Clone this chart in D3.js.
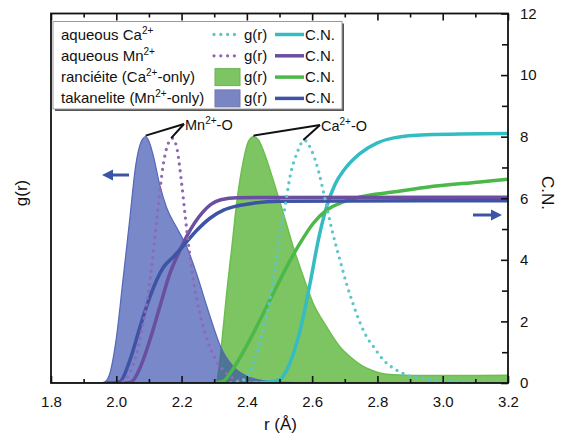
<!DOCTYPE html>
<html>
<head>
<meta charset="utf-8">
<script src="https://cdn.jsdelivr.net/npm/d3@7"></script>
<style>
    body { margin: 0; background: #fff; }
    svg text { font-family: Arial, "Liberation Sans", Helvetica, sans-serif; fill: #111; }
</style>
</head>
<body>
<svg id="chart" width="564" height="444"></svg>
<script>
// ---- data: [r (Å), value] ----
const takaneliteG = [[1.80,0],[1.95,0],[1.965,0.04],[1.98,0.3],[2.00,1.45],[2.02,3.3],[2.04,5.2],[2.06,7.1],[2.075,7.8],[2.09,8.0],[2.10,7.85],[2.113,7.4],[2.134,6.4],[2.154,5.7],[2.185,5.05],[2.216,4.42],[2.246,3.55],[2.277,2.5],[2.30,1.75],[2.318,1.22],[2.357,0.55],[2.40,0.22],[2.45,0.08],[2.52,0.02],[2.60,0],[3.20,0]];
const rancieiteG = [[1.80,0],[2.305,0],[2.315,0.5],[2.325,1.5],[2.338,2.9],[2.354,4.4],[2.369,5.85],[2.389,7.2],[2.405,7.85],[2.42,8.0],[2.435,7.9],[2.45,7.56],[2.481,6.58],[2.512,5.5],[2.542,4.42],[2.573,3.45],[2.603,2.59],[2.644,1.83],[2.685,1.18],[2.72,0.82],[2.75,0.58],[2.78,0.42],[2.81,0.32],[2.85,0.27],[2.95,0.24],[3.20,0.25]];
const aqMnG = [[2.00,0],[2.021,0.05],[2.04,0.3],[2.062,0.96],[2.08,1.8],[2.095,2.7],[2.113,4.2],[2.129,5.8],[2.144,7.1],[2.158,7.75],[2.172,7.95],[2.187,7.55],[2.20,6.5],[2.216,4.96],[2.236,3.34],[2.256,2.26],[2.28,1.35],[2.30,0.85],[2.338,0.31],[2.389,0.05],[2.45,0]];
const aqCaG = [[2.35,0],[2.399,0.15],[2.42,0.64],[2.445,1.5],[2.466,2.47],[2.486,3.67],[2.501,4.75],[2.517,5.72],[2.532,6.69],[2.553,7.45],[2.576,7.88],[2.598,7.56],[2.619,6.9],[2.639,6.0],[2.66,5.0],[2.685,4.0],[2.706,3.2],[2.726,2.55],[2.747,1.95],[2.767,1.5],[2.788,1.18],[2.818,0.75],[2.849,0.48],[2.89,0.26],[2.94,0.15],[2.99,0.08],[3.10,0.03],[3.20,0.02]];

const aqCaCN = [[2.40,0],[2.45,0.02],[2.50,0.1],[2.53,0.6],[2.563,1.7],[2.593,3.2],[2.62,4.7],[2.645,5.75],[2.67,6.45],[2.70,6.95],[2.746,7.45],[2.80,7.8],[2.85,7.96],[2.95,8.06],[3.20,8.1]];
const aqMnCN = [[1.99,0],[2.03,0],[2.047,0.04],[2.073,0.5],[2.103,1.4],[2.134,2.5],[2.164,3.55],[2.19,4.2],[2.215,4.75],[2.24,5.2],[2.265,5.55],[2.29,5.8],[2.32,5.95],[2.37,6.02],[3.20,6.03]];
const rancieiteCN = [[2.30,0],[2.327,0.05],[2.357,0.45],[2.399,1.2],[2.44,2.04],[2.481,2.91],[2.522,3.77],[2.563,4.54],[2.603,5.18],[2.644,5.61],[2.695,5.88],[2.746,6.04],[2.848,6.2],[2.951,6.36],[3.114,6.53],[3.20,6.62]];
const takaneliteCN = [[1.97,0],[1.99,0],[2.011,0.04],[2.042,0.75],[2.073,1.83],[2.103,2.8],[2.144,3.75],[2.175,4.1],[2.205,4.45],[2.246,4.95],[2.287,5.35],[2.33,5.62],[2.37,5.75],[2.42,5.84],[2.50,5.9],[3.20,5.92]];

const rMajorTicks = [1.8, 2.0, 2.2, 2.4, 2.6, 2.8, 3.0, 3.2];
const rMinorTicks = [1.9, 2.1, 2.3, 2.5, 2.7, 2.9, 3.1];
const cnMajorTicks = [0, 2, 4, 6, 8, 10, 12];
const cnMinorTicks = [1, 3, 5, 7, 9, 11];

const legendRows = [
    {name: "aqueous ", ion: "Ca", tail: "", g: "dots", gColor: "#5cc6ca", cnColor: "#35bcc2"},
    {name: "aqueous ", ion: "Mn", tail: "", g: "dots", gColor: "#8f69b6", cnColor: "#6a4ea0"},
    {name: "ranciéite (", ion: "Ca", tail: "-only)", g: "fill", gColor: "#7dc462", cnColor: "#4bb84a"},
    {name: "takanelite (", ion: "Mn", tail: "-only)", g: "fill", gColor: "#7a86c4", cnColor: "#3d54a6"},
];

// ---- chart ----
let svg = d3.select("#chart");
let plot = {left: 51, right: 508, top: 13.5, bottom: 383};

let x = d3.scaleLinear().domain([1.8, 3.2]).range([plot.left, plot.right]);
let yG = d3.scaleLinear().domain([0, 12]).range([plot.bottom, plot.top]);
let yCN = d3.scaleLinear().domain([0, 12]).range([plot.bottom, plot.top]);

svg.append("clipPath").attr("id", "clip")
    .append("rect")
    .attr("x", plot.left).attr("y", plot.top)
    .attr("width", plot.right - plot.left).attr("height", plot.bottom - plot.top);

let g = svg.append("g").attr("clip-path", "url(#clip)");

let area = d3.area().x(d => x(d[0])).y0(yG(0)).y1(d => yG(d[1])).curve(d3.curveMonotoneX);
let lineG = d3.line().x(d => x(d[0])).y(d => yG(d[1])).curve(d3.curveMonotoneX);
let lineCN = d3.line().x(d => x(d[0])).y(d => yCN(d[1])).curve(d3.curveMonotoneX);

// filled g(r) of the minerals
g.append("path").datum(rancieiteG)
    .attr("d", area).attr("fill", "#52b02e").attr("fill-opacity", 0.75);
g.append("path").datum(rancieiteG)
    .attr("d", lineG).attr("fill", "none").attr("stroke", "#6cbf4f").attr("stroke-width", 1.5);
g.append("path").datum(takaneliteG)
    .attr("d", area).attr("fill", "#3a4fae").attr("fill-opacity", 0.68);
g.append("path").datum(takaneliteG)
    .attr("d", lineG).attr("fill", "none").attr("stroke", "#5667b6").attr("stroke-width", 1.2);

// coordination numbers
[[aqCaCN, "#35bcc2"], [rancieiteCN, "#4bb84a"], [aqMnCN, "#6a4ea0"], [takaneliteCN, "#3d54a6"]].forEach(([d, c]) => {
    g.append("path").datum(d)
        .attr("d", lineCN)
        .attr("fill", "none")
        .attr("stroke", c)
        .attr("stroke-width", 3.5);
});

// aqueous g(r), dotted
[[aqMnG, "#8f69b6"], [aqCaG, "#5cc6ca"]].forEach(([d, c]) => {
    g.append("path").datum(d)
        .attr("d", lineG)
        .attr("fill", "none")
        .attr("stroke", c)
        .attr("stroke-width", 3.3)
        .attr("stroke-linecap", "round")
        .attr("stroke-dasharray", "0 6.8");
});

// axes
function styleAxis(sel) {
    sel.select(".domain").remove();
    sel.selectAll(".tick line").attr("stroke", "#111").attr("stroke-width", 1.6);
    sel.selectAll(".tick text").attr("font-size", "15px").attr("fill", "#111");
}

svg.append("g")
    .attr("transform", `translate(0,${plot.bottom})`)
    .call(d3.axisBottom(x).tickValues(rMajorTicks).tickSizeInner(-7).tickSizeOuter(0).tickPadding(13).tickFormat(d3.format(".1f")))
    .call(styleAxis);
svg.append("g")
    .attr("transform", `translate(0,${plot.bottom})`)
    .call(d3.axisBottom(x).tickValues(rMinorTicks).tickSizeInner(-4).tickSizeOuter(0).tickFormat(""))
    .call(styleAxis);
svg.append("g")
    .attr("transform", `translate(0,${plot.top})`)
    .call(d3.axisTop(x).tickValues(rMajorTicks).tickSizeInner(-7).tickSizeOuter(0).tickFormat(""))
    .call(styleAxis);
svg.append("g")
    .attr("transform", `translate(0,${plot.top})`)
    .call(d3.axisTop(x).tickValues(rMinorTicks).tickSizeInner(-4).tickSizeOuter(0).tickFormat(""))
    .call(styleAxis);
svg.append("g")
    .attr("transform", `translate(${plot.right},0)`)
    .call(d3.axisRight(yCN).tickValues(cnMajorTicks).tickSizeInner(-7).tickSizeOuter(0).tickPadding(12))
    .call(styleAxis);
svg.append("g")
    .attr("transform", `translate(${plot.right},0)`)
    .call(d3.axisRight(yCN).tickValues(cnMinorTicks).tickSizeInner(-6).tickSizeOuter(0).tickFormat(""))
    .call(styleAxis);

// frame
svg.append("rect")
    .attr("x", plot.left).attr("y", plot.top)
    .attr("width", plot.right - plot.left).attr("height", plot.bottom - plot.top)
    .attr("fill", "none").attr("stroke", "#111").attr("stroke-width", 1.8);

// axis labels
svg.append("text")
    .attr("x", (plot.left + plot.right) / 2 + 1)
    .attr("y", 430)
    .attr("text-anchor", "middle")
    .attr("font-size", "17px")
    .text("r (Å)");
svg.append("text")
    .attr("transform", "translate(27,193) rotate(-90)")
    .attr("text-anchor", "middle")
    .attr("font-size", "17px")
    .text("g(r)");
svg.append("text")
    .attr("transform", "translate(542,193) rotate(90)")
    .attr("text-anchor", "middle")
    .attr("font-size", "17px")
    .text("C.N.");

// text with a superscript 2+
function ionText(sel, before, ion, after) {
    sel.append("tspan").text(before + ion);
    sel.append("tspan").attr("dy", -6).attr("font-size", "10px").text("2+");
    sel.append("tspan").attr("dy", 6).text(after);
}

// peak labels
let labels = [
    {ion: "Mn", peaks: [[2.09, 8.0], [2.168, 7.92]], at: [184, 124]},
    {ion: "Ca", peaks: [[2.42, 8.0], [2.573, 7.86]], at: [320, 125]},
];
labels.forEach(l => {
    l.peaks.forEach(p => {
        svg.append("line")
            .attr("x1", x(p[0])).attr("y1", yG(p[1]) - 1)
            .attr("x2", l.at[0]).attr("y2", l.at[1])
            .attr("stroke", "#111").attr("stroke-width", 2);
    });
    let t = svg.append("text")
        .attr("x", l.at[0] + 1).attr("y", l.at[1] + 6)
        .attr("font-size", "14.5px");
    ionText(t, "", l.ion, "-O");
});

// axis arrows
function arrow(x0, x1, yy) {
    let dir = Math.sign(x1 - x0);
    let head = 11;
    svg.append("line")
        .attr("x1", x0).attr("y1", yy).attr("x2", x1 - dir * head + dir).attr("y2", yy)
        .attr("stroke", "#3a55a8").attr("stroke-width", 3);
    svg.append("path")
        .attr("d", `M${x1},${yy} L${x1 - dir * head},${yy - 5.5} L${x1 - dir * head},${yy + 5.5} Z`)
        .attr("fill", "#3a55a8");
}
arrow(129, 102, 175);
arrow(473, 502, 215);

// legend
let lg = svg.append("g");
lg.append("rect")
    .attr("x", 55).attr("y", 23.5).attr("width", 289).attr("height", 87.5)
    .attr("fill", "#555");
lg.append("rect")
    .attr("x", 53).attr("y", 21.5).attr("width", 289).attr("height", 87.5)
    .attr("fill", "#fff").attr("stroke", "#9a9a9a").attr("stroke-width", 1);

legendRows.forEach((row, i) => {
    let base = 39.5 + i * 21.3;
    let mid = base - 5;
    let t = lg.append("text").attr("x", 61).attr("y", base).attr("font-size", "15px");
    ionText(t, row.name, row.ion, row.tail);

    if (row.g === "dots") {
        lg.append("line")
            .attr("x1", 214).attr("x2", 238).attr("y1", mid).attr("y2", mid)
            .attr("stroke", row.gColor).attr("stroke-width", 3.3)
            .attr("stroke-linecap", "round").attr("stroke-dasharray", "0 6.8");
    } else {
        lg.append("rect")
            .attr("x", 215).attr("y", mid - 8.5).attr("width", 25).attr("height", 17)
            .attr("fill", row.gColor).attr("stroke", d3.color(row.gColor).darker(0.3)).attr("stroke-width", 1);
    }
    lg.append("text").attr("x", 244).attr("y", base).attr("font-size", "15px").text("g(r)");
    lg.append("line")
        .attr("x1", 275).attr("x2", 304).attr("y1", mid).attr("y2", mid)
        .attr("stroke", row.cnColor).attr("stroke-width", 3.5);
    lg.append("text").attr("x", 305).attr("y", base).attr("font-size", "15px").text("C.N.");
});
</script>
</body>
</html>
